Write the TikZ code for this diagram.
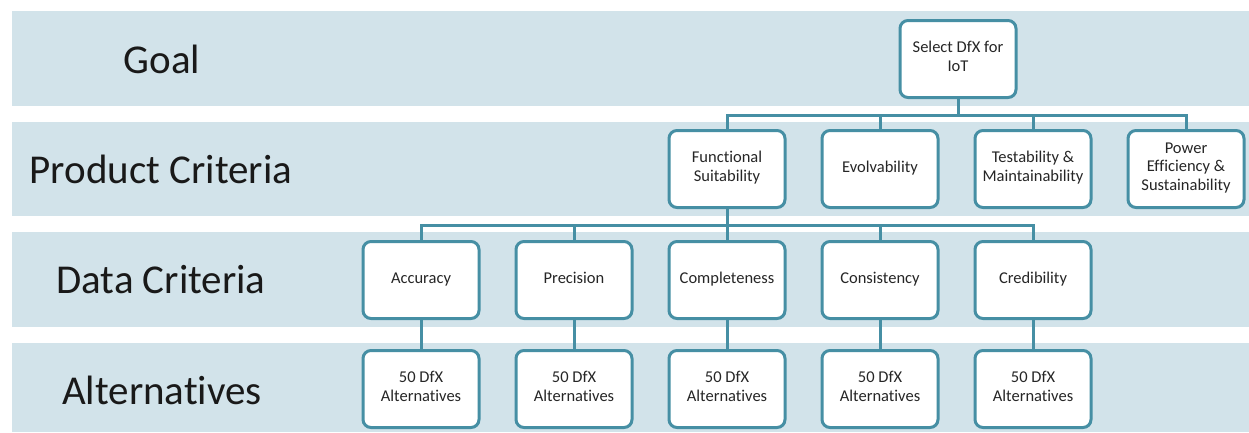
\documentclass[tikz,border=0pt]{standalone}
\usepackage{fontspec}
\setmainfont{Carlito}[Ligatures={NoCommon,NoRequired,NoContextual}]
\usetikzlibrary{positioning}
\definecolor{bandblue}{RGB}{210,227,234}
\definecolor{boxline}{RGB}{70,143,164}

\begin{document}
\begin{tikzpicture}[x=1pt,y=-1pt,line width=3pt,node distance=34pt]
  \tikzstyle{crit}=[draw=boxline,fill=white,rounded corners=8pt,
                    minimum width=116pt,minimum height=77pt,align=center,
                    inner sep=2pt,text=black!85,font=\fontsize{16.5}{18.5}\selectfont,
                    execute at begin node=\strut,execute at end node=\strut]
  \tikzstyle{rowlabel}=[text=black!90,font=\fontsize{41}{48}\selectfont]
  \tikzstyle{busline}=[draw=boxline,
                       to path={(\tikztostart.south) -- ++(0,16) -| (\tikztotarget.north)}]

  \useasboundingbox (0,0) rectangle (1249,432);

  % bands
  \fill[bandblue] (12,11)  rectangle (1249,106);
  \fill[bandblue] (12,122) rectangle (1249,216);
  \fill[bandblue] (12,232) rectangle (1249,327);
  \fill[bandblue] (12,343) rectangle (1249,432);

  \node[rowlabel] (lgoal) at (162,59)  {Goal};
  \node[rowlabel] (lprod) at (161,169) {Product Criteria};
  \node[rowlabel] (ldata) at (161,280) {Data Criteria};
  \node[rowlabel] (lalt)  at (162,390) {Alternatives};

  % goal and product criteria
  \node[crit] (goal) at (958,59) {Select DfX for\\IoT};
  \node[crit] (func) at (727,169)      {Functional\\Suitability};
  \node[crit] (evol) [right=of func]   {Evolvability};
  \node[crit] (test) [right=of evol]   {Testability \&\\Maintainability};
  \node[crit] (power) [right=of test]  {Power\\Efficiency \&\\Sustainability};

  % data criteria
  \node[crit] (complete) [below=31pt of func] {Completeness};
  \node[crit] (precis)   [left=of complete]   {Precision};
  \node[crit] (accur)    [left=of precis]     {Accuracy};
  \node[crit] (consist)  [right=of complete]  {Consistency};
  \node[crit] (credib)   [right=of consist]   {Credibility};

  % alternatives
  \node[crit] (altA) [below=29pt of accur]    {50 DfX\\Alternatives};
  \node[crit] (altB) [below=29pt of precis]   {50 DfX\\Alternatives};
  \node[crit] (altC) [below=29pt of complete] {50 DfX\\Alternatives};
  \node[crit] (altD) [below=29pt of consist]  {50 DfX\\Alternatives};
  \node[crit] (altE) [below=29pt of credib]   {50 DfX\\Alternatives};

  \path (goal) edge[busline] (func)
               edge[busline] (evol)
               edge[busline] (test)
               edge[busline] (power)
        (func) edge[busline] (accur)
               edge[busline] (precis)
               edge[busline] (complete)
               edge[busline] (consist)
               edge[busline] (credib);
  \path[draw=boxline] (accur) edge (altA)
        (precis) edge (altB)
        (complete) edge (altC)
        (consist) edge (altD)
        (credib) edge (altE);
\end{tikzpicture}
\end{document}
